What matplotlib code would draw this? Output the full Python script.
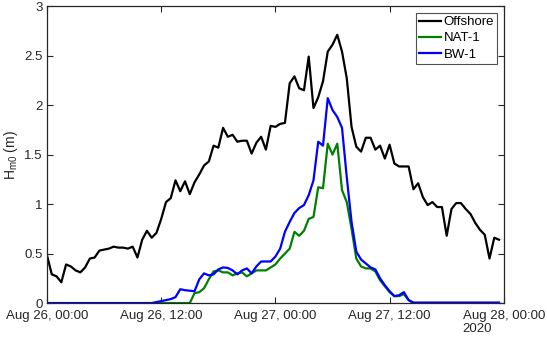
import matplotlib
matplotlib.use("Agg")
import matplotlib.pyplot as plt
import pandas as pd

plt.rcParams['font.family'] = ['Liberation Sans', 'DejaVu Sans']
plt.rcParams['mathtext.fontset'] = 'custom'
plt.rcParams['mathtext.rm'] = 'Liberation Sans'
plt.rcParams['mathtext.it'] = 'Liberation Sans:italic'

times = pd.date_range("2020-08-26 00:00", periods=96, freq="30min")

offshore = [0.48, 0.29, 0.27, 0.21, 0.39, 0.37, 0.33, 0.31, 0.36, 0.45,
            0.46, 0.53, 0.54, 0.55, 0.57, 0.56, 0.56, 0.55, 0.57, 0.46,
            0.64, 0.73, 0.66, 0.71, 0.85, 1.02, 1.06, 1.24, 1.13, 1.23,
            1.10, 1.22, 1.30, 1.39, 1.43, 1.59, 1.57, 1.77, 1.68, 1.70,
            1.63, 1.64, 1.64, 1.51, 1.62, 1.68, 1.55, 1.79, 1.78, 1.81,
            1.82, 2.22, 2.29, 2.17, 2.15, 2.49, 1.97, 2.08, 2.24, 2.54,
            2.61, 2.71, 2.54, 2.27, 1.78, 1.58, 1.53, 1.67, 1.67, 1.55,
            1.59, 1.46, 1.60, 1.41, 1.38, 1.38, 1.38, 1.15, 1.21, 1.07,
            0.99, 1.02, 0.97, 0.97, 0.68, 0.95, 1.01, 1.01, 0.95, 0.90,
            0.81, 0.74, 0.69, 0.45, 0.66, 0.64]

nat1 = [0.0] * 31 + [
            0.10, 0.11, 0.15, 0.24, 0.32, 0.33, 0.31, 0.31, 0.28,
            0.30, 0.31, 0.27, 0.30, 0.33, 0.33, 0.33, 0.36, 0.39, 0.45,
            0.50, 0.55, 0.72, 0.68, 0.73, 0.85, 0.87, 1.17, 1.16, 1.61,
            1.50, 1.61, 1.14, 1.02, 0.75, 0.45, 0.37, 0.35, 0.35, 0.32,
            0.23, 0.17, 0.11, 0.07, 0.07, 0.09, 0.03] + [0.0] * 19

bw1 = [0.0] * 23 + [
            0.01, 0.02, 0.03, 0.04, 0.06, 0.14, 0.13,
            0.125, 0.12, 0.24, 0.30, 0.28, 0.29, 0.34, 0.36, 0.355, 0.33,
            0.29, 0.33, 0.35, 0.30, 0.37, 0.42, 0.42, 0.42, 0.47, 0.55,
            0.72, 0.82, 0.91, 0.96, 0.99, 1.09, 1.24, 1.63, 1.59, 2.07,
            1.95, 1.88, 1.77, 1.27, 0.82, 0.52, 0.44, 0.40, 0.36, 0.34,
            0.25, 0.18, 0.12, 0.07, 0.08, 0.11, 0.03] + [0.005] * 19

tick_times = pd.date_range("2020-08-26 00:00", periods=5, freq="12h")
tick_labels = ["Aug 26, 00:00", "Aug 26, 12:00", "Aug 27, 00:00",
               "Aug 27, 12:00", "Aug 28, 00:00\n2020"]
yticks = [0, 0.5, 1, 1.5, 2, 2.5, 3]
ytick_labels = ["0", "0.5", "1", "1.5", "2", "2.5", "3"]

fig = plt.figure(figsize=(5.47, 3.39), dpi=100)
ax = fig.add_axes([0.086, 0.106, 0.835, 0.876])

ax.plot(times, offshore, color='black', lw=1.6, label='Offshore')
ax.plot(times, nat1, color='#008000', lw=1.6, label='NAT-1')
ax.plot(times, bw1, color='#0000ff', lw=1.6, label='BW-1')

ax.set_xlim(tick_times[0], tick_times[-1])
ax.set_ylim(0, 3)
ax.set_xticks(tick_times)
ax.set_xticklabels(tick_labels)
ax.set_yticks(yticks)
ax.set_yticklabels(ytick_labels)
for lab in ax.get_xticklabels():
    lab.set_multialignment('left')
    lab.set_linespacing(1.15)

edge = '#262626'
for s in ax.spines.values():
    s.set_color(edge)
    s.set_linewidth(0.9)
ax.tick_params(direction='in', length=4, width=0.8, color=edge,
               labelsize=9.5, labelcolor='#262626', top=True, right=True)
ax.tick_params(axis='x', pad=5)
ax.tick_params(axis='y', pad=3)
ax.set_ylabel('H$_{\\mathrm{m0}}$ (m)', fontsize=10, color='#262626', labelpad=3)

leg = ax.legend(loc='upper right', fontsize=9.5, frameon=True, fancybox=False,
                borderpad=0.25, labelspacing=0.3, handlelength=1.7,
                handletextpad=0.15, borderaxespad=0.5)
leg.get_frame().set_edgecolor(edge)
leg.get_frame().set_linewidth(0.8)

fig.savefig('out.png', dpi=100)
